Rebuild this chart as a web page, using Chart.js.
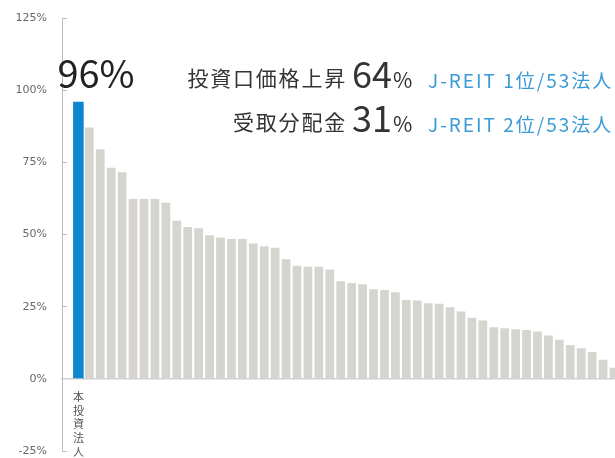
<!DOCTYPE html>
<html lang="ja">
<head>
<meta charset="utf-8">
<script src="https://cdn.jsdelivr.net/npm/chart.js@4.4.1/dist/chart.umd.min.js"></script>
<style>
  html, body { margin: 0; padding: 0; background: #fff; overflow: hidden; }
  #wrap { width: 615px; height: 458px; overflow: hidden; }
</style>
</head>
<body>
<div id="wrap"><canvas id="reitChart" width="625" height="458"></canvas></div>
<script>
// 投資口価格上昇率（％）— 左端が本投資法人、以降は他のJ-REIT（右端で切れている分は含めない）
const ourFund = '本投資法人';
const fundValue = [96];
const peerValues = [
    87.1, 79.5, 73.1, 71.6, 62.3, 62.3, 62.3, 61.0, 54.8, 52.6,
    52.2, 49.7, 49.0, 48.4, 48.4, 46.9, 45.9, 45.4, 41.4, 39.2,
    38.8, 38.8, 37.9, 33.8, 33.2, 32.8, 31.0, 30.8, 30.0, 27.3,
    27.1, 26.2, 26.0, 24.8, 23.3, 21.2, 20.2, 17.9, 17.5, 17.2,
    16.9, 16.4, 15.0, 13.5, 11.7, 10.6, 9.3, 6.6, 3.8
];
// 先頭の空欄は軸と最初の棒の間のすき間
const categories = [''].concat([ourFund], Array(peerValues.length).fill(''));
const yTicks = [-25, 0, 25, 50, 75, 100, 125];

const headlineLabels = ['投資口価格上昇', '受取分配金'];
const headlineValues = [64, 31];
const headlineRanks = ['J-REIT 1位/53法人', 'J-REIT 2位/53法人'];

const fam = '"Noto Sans CJK JP", "Noto Sans", sans-serif';

const headline = {
    id: 'headline',
    afterDraw(chart) {
        const ctx = chart.ctx;
        ctx.save();
        ctx.textBaseline = 'alphabetic';

        // 本投資法人の値
        const bx = chart.scales.x.getPixelForValue(1);
        ctx.fillStyle = '#222';
        ctx.font = `38px ${fam}`;
        ctx.textAlign = 'left';
        ctx.fillText(fundValue[0] + '%', bx - 21, 88);

        const rows = [88, 132];
        headlineLabels.forEach((label, i) => {
            const base = rows[i];
            ctx.fillStyle = '#333';
            ctx.textAlign = 'right';
            ctx.font = `21px ${fam}`;
            ctx.letterSpacing = '1.8px';
            ctx.fillText(label, 347, base - 2);
            ctx.letterSpacing = '0px';

            ctx.textAlign = 'left';
            ctx.font = `36px ${fam}`;
            const num = String(headlineValues[i]);
            ctx.fillText(num, 352, base);
            const w = ctx.measureText(num).width;
            ctx.font = `21px ${fam}`;
            ctx.fillText('%', 352 + w + 1, base);

            ctx.fillStyle = '#3a9ad8';
            ctx.font = `19px ${fam}`;
            ctx.letterSpacing = '2px';
            ctx.fillText(headlineRanks[i], 428, base);
            ctx.letterSpacing = '0px';
        });
        ctx.restore();
    }
};

const ctxReit = document.getElementById('reitChart');

window.reitChart = new Chart(ctxReit, {
    type: 'bar',
    data: {
        labels: categories,
        datasets: [{
            data: categories.map((c, i) => i === 1 ? fundValue[0] : null),
            backgroundColor: '#0b86cf',
            barPercentage: 0.97,
            categoryPercentage: 1
        }, {
            data: [null, null].concat(peerValues),
            backgroundColor: '#d6d4cf',
            barPercentage: 0.8,
            categoryPercentage: 1
        }]
    },
    options: {
        responsive: false,
        animation: false,
        datasets: { bar: { grouped: false } },
        layout: {
            padding: { top: 18, bottom: 7, left: 0, right: 0 }
        },
        plugins: {
            legend: { display: false },
            tooltip: { enabled: false }
        },
        scales: {
            x: {
                position: { y: 0 },
                afterFit: s => { s.height = 0; },
                grid: { display: false, drawTicks: false },
                border: { display: true, color: '#cfcfcf', width: 1.5 },
                ticks: {
                    autoSkip: false,
                    maxRotation: 0,
                    padding: 11,
                    color: '#555',
                    font: { family: fam, size: 11, lineHeight: 1.25 },
                    callback: (v, i) => categories[i] ? categories[i].split('') : ''
                }
            },
            y: {
                min: yTicks[0],
                max: yTicks[yTicks.length - 1],
                afterFit: s => {
                    s.width = 62;
                    s.paddingTop = 0;
                    s.paddingBottom = 0;
                },
                afterBuildTicks: s => { s.ticks = yTicks.map(v => ({ value: v })); },
                grid: { drawOnChartArea: false, tickLength: -5, color: '#bdbdbd' },
                border: { color: '#bdbdbd' },
                ticks: {
                    padding: 20,
                    color: '#666',
                    font: { family: '"DejaVu Sans", sans-serif', size: 11 },
                    callback: v => v + '%'
                }
            }
        }
    },
    plugins: [headline]
});
</script>
</body>
</html>
